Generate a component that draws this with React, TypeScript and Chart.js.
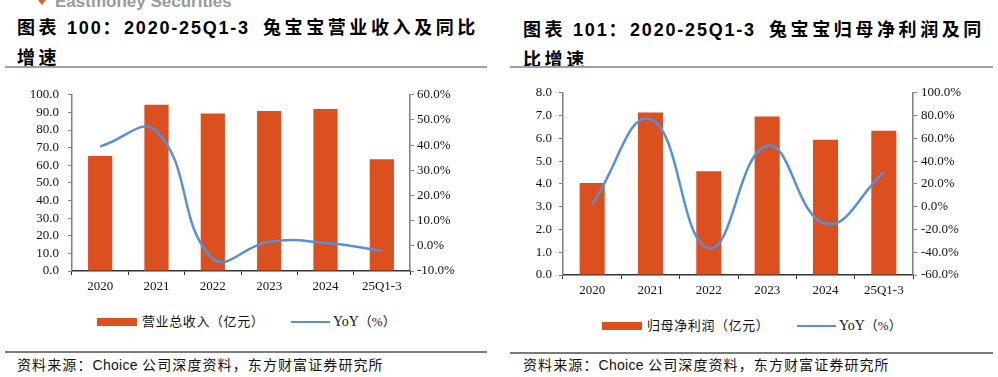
import React, { useEffect, useRef } from 'react';
import { Chart, registerables } from 'chart.js';

Chart.register(...registerables);

// ---------- data ----------
const categories = ['2020', '2021', '2022', '2023', '2024', '25Q1-3'];

const revenue = [65.2, 94.3, 89.4, 90.8, 91.9, 63.4];
const revenueYoY = [39.5, 45.5, -5.2, 1.6, 1.2, -2.0];

const netProfit = [4.04, 7.14, 4.55, 6.96, 5.94, 6.33];
const netProfitYoY = [2.0, 76.8, -36.5, 53.5, -14.8, 30.2];

const revenueTicksLeft = { min: 0, max: 100, step: 10 };
const revenueTicksRight = { min: -10, max: 60, step: 10 };
const profitTicksLeft = { min: 0, max: 8, step: 1 };
const profitTicksRight = { min: -60, max: 100, step: 20 };

// ---------- styles ----------
const BAR_COLOR = '#DC4F1F';
const LINE_COLOR = '#5590DB';
const SERIF = '"Liberation Serif", "Times New Roman", "Noto Sans CJK SC", serif';
const SANS = '"Liberation Sans", Arial, "Noto Sans CJK SC", sans-serif';

type ComboProps = {
  left: number;
  top: number;
  width: number;
  height: number;
  bars: number[];
  yoy: number[];
  barLabel: string;
  yl: { min: number; max: number; step: number };
  yr: { min: number; max: number; step: number };
  leftWidth: number;
  rightWidth: number;
  padTop: number;
  xHeight: number;
  leftPad: number;
  rightPad: number;
};

function ComboChart(p: ComboProps) {
  const ref = useRef<HTMLCanvasElement | null>(null);
  useEffect(() => {
    if (!ref.current) return;
    const tickFont = { family: SERIF, size: 13 };
    const chart = new Chart(ref.current, {
      type: 'bar',
      data: {
        labels: categories,
        datasets: [
          {
            type: 'line',
            label: 'YoY（%）',
            data: p.yoy,
            yAxisID: 'y1',
            borderColor: LINE_COLOR,
            backgroundColor: LINE_COLOR,
            borderWidth: 2.5,
            pointRadius: 0,
            tension: 0.45,
            order: 0,
          } as any,
          {
            type: 'bar',
            label: p.barLabel,
            data: p.bars,
            yAxisID: 'y',
            backgroundColor: BAR_COLOR,
            borderWidth: 0,
            barPercentage: 0.43,
            categoryPercentage: 1,
            order: 1,
          } as any,
        ],
      },
      options: {
        responsive: false,
        animation: false,
        devicePixelRatio: 1,
        layout: { padding: { top: p.padTop, left: 0, right: 0, bottom: 0 } },
        plugins: { legend: { display: false }, tooltip: { enabled: false } },
        scales: {
          x: {
            grid: {
              display: true,
              drawOnChartArea: false,
              drawTicks: true,
              tickLength: 4,
              color: '#333333',
              offset: true,
            },
            border: { display: true, color: '#333333', width: 1.5 },
            ticks: { font: tickFont, color: '#111111', padding: 4, maxRotation: 0, autoSkip: false },
            afterFit: (s: any) => {
              s.height = p.xHeight;
            },
          },
          y: {
            position: 'left',
            min: p.yl.min,
            max: p.yl.max,
            ticks: {
              stepSize: p.yl.step,
              autoSkip: false,
              callback: (v: any) => Number(v).toFixed(1),
              font: tickFont,
              color: '#111111',
              padding: p.leftPad,
            },
            grid: { drawOnChartArea: false, drawTicks: true, tickLength: 4, color: '#7f7f7f' },
            border: { display: true, color: '#7f7f7f', width: 1.5 },
            afterFit: (s: any) => {
              s.width = p.leftWidth;
            },
          },
          y1: {
            position: 'right',
            min: p.yr.min,
            max: p.yr.max,
            ticks: {
              stepSize: p.yr.step,
              autoSkip: false,
              callback: (v: any) => Number(v).toFixed(1) + '%',
              font: tickFont,
              color: '#111111',
              padding: p.rightPad,
            },
            grid: { drawOnChartArea: false, drawTicks: true, tickLength: 4, color: '#7f7f7f' },
            border: { display: true, color: '#7f7f7f', width: 1.5 },
            afterFit: (s: any) => {
              s.width = p.rightWidth;
            },
          },
        },
      } as any,
    });
    return () => chart.destroy();
  }, []);
  return (
    <canvas
      ref={ref}
      width={p.width}
      height={p.height}
      style={{ position: 'absolute', left: p.left, top: p.top, width: p.width, height: p.height }}
    />
  );
}

function Title({ left, top, num, cjk1, cjk2 }: { left: number; top: number; num: string; cjk1: string; cjk2: string }) {
  const cjk: React.CSSProperties = { fontFamily: '"Noto Sans CJK SC", sans-serif', letterSpacing: '3.6px' };
  const lat: React.CSSProperties = { fontFamily: SANS, letterSpacing: '1.8px' };
  return (
    <div
      style={{
        position: 'absolute',
        left,
        top,
        fontSize: 18,
        fontWeight: 'bold',
        lineHeight: '28px',
        whiteSpace: 'pre',
        color: '#000',
      }}
    >
      <span style={cjk}>图表</span>
      <span style={lat}>{' ' + num}</span>
      <span style={cjk}>：</span>
      <span style={lat}>2020-25Q1-3</span>
      <span style={{ display: 'inline-block', width: 13 }} />
      <span style={cjk}>{cjk1}</span>
      <br />
      <span style={cjk}>{cjk2}</span>
    </div>
  );
}

function HLine({ left, top, width, color, h }: { left: number; top: number; width: number; color: string; h: number }) {
  return <div style={{ position: 'absolute', left, top, width, height: h, background: color }} />;
}

function Source({ left, top }: { left: number; top: number }) {
  return (
    <div
      style={{
        position: 'absolute',
        left,
        top,
        fontSize: 14,
        lineHeight: '18px',
        whiteSpace: 'nowrap',
        color: '#111',
        fontFamily: '"Noto Sans CJK SC", sans-serif',
        letterSpacing: '1.1px',
      }}
    >
      资料来源：<span style={{ fontFamily: SANS, letterSpacing: '0.3px' }}>Choice </span>公司深度资料，东方财富证券研究所
    </div>
  );
}

function Legend({
  boxLeft,
  cy,
  barText,
  lineLeft,
}: {
  boxLeft: number;
  cy: number;
  barText: string;
  lineLeft: number;
}) {
  const txt: React.CSSProperties = {
    position: 'absolute',
    top: cy - 9,
    lineHeight: '18px',
    fontSize: 13,
    whiteSpace: 'nowrap',
    fontFamily: '"Liberation Serif", "Noto Sans CJK SC", serif',
    color: '#111',
  };
  return (
    <>
      <div style={{ position: 'absolute', left: boxLeft, top: cy - 4, width: 40, height: 8, background: BAR_COLOR }} />
      <div style={{ ...txt, left: boxLeft + 45, letterSpacing: '0.6px' }}>{barText}</div>
      <div style={{ position: 'absolute', left: lineLeft, top: cy - 1, width: 39, height: 2, background: LINE_COLOR }} />
      <div style={{ ...txt, left: lineLeft + 42, fontSize: 14 }}>
        YoY<span style={{ fontSize: 13 }}>（%）</span>
      </div>
    </>
  );
}

export default function App() {
  return (
    <div
      style={{
        position: 'absolute',
        left: 0,
        top: 0,
        width: 998,
        height: 377,
        background: '#fff',
        overflow: 'hidden',
      }}
    >
      {/* cropped header */}
      <div
        style={{
          position: 'absolute',
          left: 38,
          top: 0,
          width: 0,
          height: 0,
          borderLeft: '4px solid transparent',
          borderRight: '4px solid transparent',
          borderTop: '5px solid #E2602A',
        }}
      />
      <div
        style={{
          position: 'absolute',
          left: 55,
          top: -7,
          fontSize: 17,
          lineHeight: '17px',
          fontWeight: 'bold',
          fontFamily: SANS,
          color: '#9a9a9a',
          whiteSpace: 'nowrap',
        }}
      >
        Eastmoney Securities
      </div>

      {/* left panel */}
      <Title left={17} top={12} num="100" cjk1="兔宝宝营业收入及同比" cjk2="增速" />
      <HLine left={5} top={66} width={482} color="#a0a0a0" h={2} />
      <ComboChart
        left={0}
        top={78}
        width={490}
        height={225}
        bars={revenue}
        yoy={revenueYoY}
        barLabel="营业总收入（亿元）"
        yl={revenueTicksLeft}
        yr={revenueTicksRight}
        leftWidth={72}
        rightWidth={80}
        padTop={11}
        xHeight={32}
        leftPad={9}
        rightPad={3}
      />
      <Legend boxLeft={97} cy={321.5} barText="营业总收入（亿元）" lineLeft={291} />
      <HLine left={5} top={351} width={482} color="#7a7a7a" h={1.5} />
      <Source left={17} top={355} />

      {/* right panel */}
      <Title left={523} top={13.5} num="101" cjk1="兔宝宝归母净利润及同" cjk2="比增速" />
      <HLine left={510} top={66} width={483} color="#a0a0a0" h={2} />
      <ComboChart
        left={500}
        top={78}
        width={490}
        height={230}
        bars={netProfit}
        yoy={netProfitYoY}
        barLabel="归母净利润（亿元）"
        yl={profitTicksLeft}
        yr={profitTicksRight}
        leftWidth={63}
        rightWidth={77}
        padTop={12}
        xHeight={33}
        leftPad={7}
        rightPad={4}
      />
      <Legend boxLeft={602} cy={326} barText="归母净利润（亿元）" lineLeft={797} />
      <HLine left={510} top={352} width={483} color="#7a7a7a" h={1.5} />
      <Source left={523} top={355} />
    </div>
  );
}
